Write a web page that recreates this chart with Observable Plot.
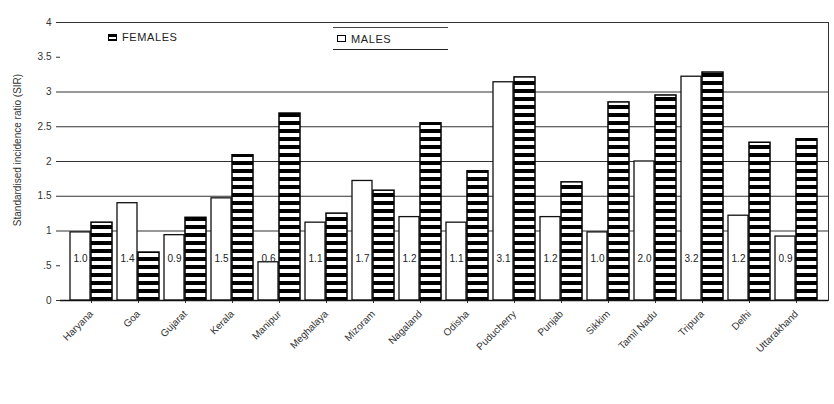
<!DOCTYPE html>
<html><head><meta charset="utf-8">
<script src="https://cdn.jsdelivr.net/npm/d3@7"></script>
<script src="https://cdn.jsdelivr.net/npm/@observablehq/plot@0.6"></script>
<style>
body{margin:0;background:#fff;font-family:"Liberation Sans",Arial,sans-serif;}
#wrap{position:relative;width:834px;height:404px;overflow:hidden;}
.leg{position:absolute;font-size:11px;color:#222;letter-spacing:0.6px;display:flex;align-items:center;gap:5px;white-space:nowrap}
.sw{display:inline-block;width:9px;height:7px;border:1px solid #000;box-sizing:border-box}
.ylab{position:absolute;left:17px;top:150px;transform:translate(-50%,-50%) rotate(-90deg);font-size:10px;color:#333;white-space:nowrap}
</style></head><body><div id="wrap"></div>
<script>
const categories = ["Haryana","Goa","Gujarat","Kerala","Manipur","Meghalaya","Mizoram","Nagaland","Odisha","Puducherry","Punjab","Sikkim","Tamil Nadu","Tripura","Delhi","Uttarakhand"];
const seriesNames = ["Males","Females"];
const whiteValues = [0.98,1.40,0.94,1.47,0.55,1.12,1.72,1.20,1.12,3.14,1.20,0.98,2.00,3.22,1.22,0.92];
const stripedValues = [1.12,0.69,1.19,2.09,2.69,1.25,1.58,2.55,1.86,3.21,1.70,2.85,2.95,3.28,2.27,2.32];
const yTicks = [0,0.5,1,1.5,2,2.5,3,3.5,4];
const yTickLabels = ["0",".5","1","1.5","2","2.5","3","3.5","4"];
const gridValues = [1,1.5,2,2.5,3];
const yLabel = "Standardised incidence ratio (SIR)";

const whiteData = categories.map((c,i)=>({cat:c, series:seriesNames[0], value:whiteValues[i], label:whiteValues[i].toFixed(1)}));
const stripedData = categories.map((c,i)=>({cat:c, series:seriesNames[1], value:stripedValues[i]}));

const chart = Plot.plot({
  width:834, height:404,
  marginLeft:60, marginRight:6, marginTop:22, marginBottom:104,
  style:{fontFamily:"Liberation Sans, Arial, sans-serif", fontSize:"10px", color:"#333", background:"#fff"},
  x:{domain:categories, padding:0.1, label:null, tickRotate:-45, tickSize:3},
  y:{domain:[0,4], ticks:yTicks, tickFormat:(d)=>yTickLabels[yTicks.indexOf(d)], label:null, tickSize:4},
  marks:[
    Plot.ruleY(gridValues,{stroke:"#333", strokeWidth:1.2}),
    Plot.ruleY([4],{stroke:"#333", strokeWidth:1.2}),
    Plot.frame({anchor:"right", stroke:"#333"}),
    Plot.barY(whiteData,{x:"cat", y:"value", fill:"white", stroke:"#111", strokeWidth:1.3, insetRight:22}),
    Plot.barY(stripedData,{x:"cat", y:"value", fill:"url(#stripes)", stroke:"#000", strokeWidth:1.5, insetLeft:21}),
    Plot.text(whiteData,{x:"cat", y:0.6, text:"label", dx:-11, fill:"#222", fontSize:10}),
    Plot.ruleY([0],{stroke:"#111", strokeWidth:1.5})
  ]
});
const defs = document.createElementNS("http://www.w3.org/2000/svg","defs");
defs.innerHTML = '<pattern id="stripes" patternUnits="userSpaceOnUse" width="10" height="8"><rect width="10" height="8" fill="#fff"/><rect width="10" height="4" y="1" fill="#000"/></pattern>';
chart.insertBefore(defs, chart.firstChild);
const wrap = document.getElementById("wrap");
wrap.appendChild(chart);

const yl = document.createElement("div");
yl.className="ylab"; yl.textContent = yLabel;
wrap.appendChild(yl);

const l1 = document.createElement("div");
l1.className="leg"; l1.style.left="108px"; l1.style.top="31px";
l1.innerHTML = '<span class="sw" style="background:repeating-linear-gradient(#000 0 2px,#fff 2px 4px)"></span>' + seriesNames[1].toUpperCase();
wrap.appendChild(l1);
const l2 = document.createElement("div");
l2.className="leg"; l2.style.left="333px"; l2.style.top="27px"; l2.style.width="115px"; l2.style.height="23px";
l2.style.borderTop="1px solid #444"; l2.style.borderBottom="1.5px solid #222"; l2.style.paddingLeft="4px"; l2.style.boxSizing="border-box";
l2.innerHTML = '<span class="sw" style="background:#fff"></span>' + seriesNames[0].toUpperCase();
wrap.appendChild(l2);
</script></body></html>
